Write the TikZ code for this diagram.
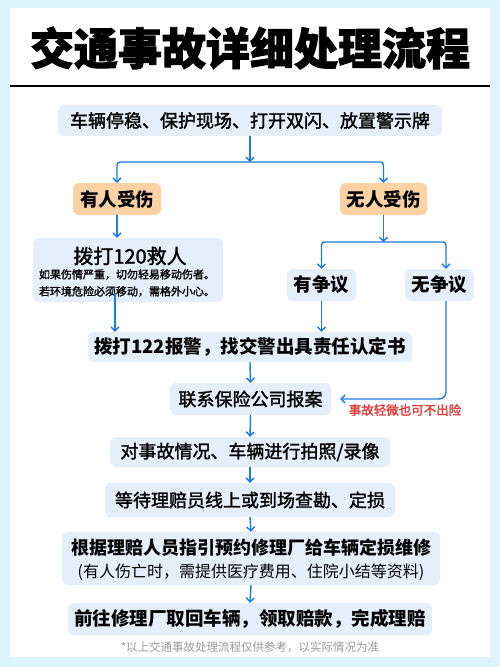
\documentclass[tikz,border=0pt]{standalone}
\usepackage{fontspec}
\setmainfont{Noto Sans CJK SC}
\newfontfamily\medfont{Noto Sans CJK SC}[FakeBold=1.6]
\newfontfamily\titlefont{Noto Sans CJK SC}[BoldFeatures={FakeBold=2}]
\usetikzlibrary{arrows.meta}
\definecolor{bgcyan}{HTML}{DDF4FC}
\definecolor{boxblue}{HTML}{E5EEFB}
\definecolor{boxorange}{HTML}{FCD2A4}
\definecolor{arrowblue}{HTML}{1F7AE0}
\definecolor{redtext}{HTML}{E03A3A}
\definecolor{greytext}{HTML}{9A9A9A}
\tikzset{
  box/.style={fill=boxblue, rounded corners=6pt, inner sep=0pt, text=black, align=center},
  obox/.style={box, fill=boxorange},
  arr/.style={draw=arrowblue, line width=1.4pt, line cap=round, -{Straight Barb[length=4pt,width=8pt,line width=1.4pt]}},
  mtext/.style={font=\medfont\fontsize{18}{22}\selectfont},
  btext/.style={font=\bfseries\fontsize{18.5}{22}\selectfont},
}
\begin{document}
\begin{tikzpicture}[x=1pt,y=-1pt]
\fill[bgcyan] (0,0) rectangle (500,667);
\fill[white] (10,8) rectangle (490,657);
\useasboundingbox (0,0) rectangle (500,667);
\node[font=\titlefont\bfseries\fontsize{44}{50}\selectfont] (title) at (250,48) {交通事故详细处理流程};
\draw[line width=1.5pt] (10,86) -- (490,86);

\node[box, mtext, minimum width=384, minimum height=31] (start) at (250,120.5) {车辆停稳、保护现场、打开双闪、放置警示牌};
\node[obox, btext, minimum width=88, minimum height=32] (hurt) at (117,199) {有人受伤};
\node[obox, btext, minimum width=87, minimum height=32] (nohurt) at (383.5,199) {无人受伤};
\node[box, minimum width=190, minimum height=64] (call120) at (128,270) {};
\node[font=\medfont\fontsize{20}{22}\selectfont] (call120t) at (130,256) {拨打120救人};
\node[font=\medfont\fontsize{11}{13}\selectfont, align=center] (call120s) at (127,283) {如果伤情严重，切勿轻易移动伤者。\\[4pt]若环境危险必须移动，需格外小心。};
\node[box, btext, minimum width=69, minimum height=32] (dispute) at (321.5,285) {有争议};
\node[box, btext, minimum width=69, minimum height=32] (nodispute) at (439.5,285) {无争议};
\node[box, btext, minimum width=324, minimum height=30] (call122) at (250,347) {拨打122报警，找交警出具责任认定书};
\node[box, mtext, minimum width=161, minimum height=32] (insure) at (250.5,399) {联系保险公司报案};
\node[text=redtext, font=\medfont\fontsize{12.5}{14}\selectfont] (minor) at (405,410) {事故轻微也可不出险};
\node[box, mtext, minimum width=280, minimum height=30] (photo) at (250,452) {对事故情况、车辆进行拍照/录像};
\node[box, mtext, minimum width=290, minimum height=34] (wait) at (250,500) {等待理赔员线上或到场查勘、定损};
\node[box, minimum width=378, minimum height=53] (repair) at (251,558.5) {};
\node[btext, font=\bfseries\fontsize{18}{22}\selectfont] (repairt) at (251,548) {根据理赔人员指引预约修理厂给车辆定损维修};
\node[font=\fontsize{16}{20}\selectfont] (repairs) at (251,572) {(有人伤亡时，需提供医疗费用、住院小结等资料)};
\node[box, btext, minimum width=364, minimum height=32] (finish) at (250,619) {前往修理厂取回车辆，领取赔款，完成理赔};
\node[text=greytext, font=\fontsize{11.5}{13}\selectfont] (note) at (250,647) {*以上交通事故处理流程仅供参考，以实际情况为准};

\coordinate (split1) at (250,162);
\coordinate (split2) at (383.5,242);
\draw[arr] (start.south) -- (split1);
\draw[arr, rounded corners=3pt] (split1) -| (hurt.north);
\draw[arr, rounded corners=3pt] (split1) -| (nohurt.north);
\draw[arr] (hurt.south) -- (hurt.south |- call120.north);
\draw[arr] (nohurt.south) -- (split2);
\draw[arr, rounded corners=3pt] (split2) -| (dispute.north);
\draw[arr, rounded corners=3pt] (split2) -| ([xshift=6.5pt]nodispute.north);
\draw[arr] ([xshift=-2pt,yshift=9pt]hurt.south |- call120.south) -- ([xshift=-2pt]hurt.south |- call122.north);
\draw[arr] (dispute.south) -- (dispute.south |- call122.north);
\draw[arr] (call122.south) -- (insure.north);
\draw[arr, rounded corners=7pt] ([xshift=6.5pt]nodispute.south) |- ([xshift=9pt]insure.east);
\draw[arr] (insure.south) -- (photo.north);
\draw[arr] (photo.south) -- (wait.north);
\draw[arr] (wait.south) -- (repair.north);
\draw[arr] (repair.south) -- (finish.north);
\end{tikzpicture}
\end{document}
